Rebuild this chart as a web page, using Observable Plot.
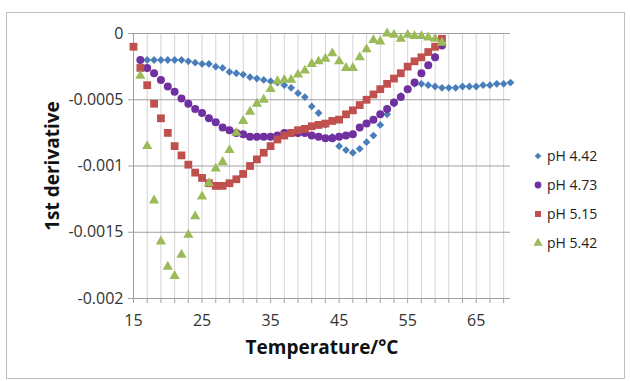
<!DOCTYPE html>
<html><head><meta charset="utf-8">
<script src="https://cdn.jsdelivr.net/npm/d3@7"></script>
<script src="https://cdn.jsdelivr.net/npm/@observablehq/plot@0.6"></script>
<style>
body{margin:0;background:#fff;font-family:"Open Sans",sans-serif;}
#wrap{position:relative;width:630px;height:381px;overflow:hidden;}
#frame{position:absolute;left:6px;top:12px;width:617px;height:365px;border:1px solid #bfbfbf;pointer-events:none;}
#legend{position:absolute;left:533px;top:141px;font-size:14px;color:#222;}
.item{display:flex;align-items:center;height:29px;}
.item svg{margin-right:4px;}
</style></head><body>
<div id="wrap"><div id="frame"></div><div id="chart"></div><div id="legend"></div></div>
<script>
// Series names and styles
const seriesNames = ["pH 4.42", "pH 4.73", "pH 5.15", "pH 5.42"];
const seriesColors = ["#4a7ebb", "#7030a0", "#c0504d", "#9bbb59"];
const seriesSymbols = ["diamond2", "circle", "square", "triangle"];

// First temperature (°C) of each series; readings every 1 °C
const startT = [16, 16, 15, 16];

const ph442 = [-0.00020,-0.00020,-0.00020,-0.00020,-0.00020,-0.00020,-0.00020,-0.00021,-0.00022,-0.00023,
  -0.00023,-0.00025,-0.00026,-0.00029,-0.00030,-0.00031,-0.00033,-0.00034,-0.00035,-0.00036,
  -0.00037,-0.00039,-0.00041,-0.00045,-0.00048,-0.00055,-0.00060,-0.00069,-0.00078,-0.00085,
  -0.00088,-0.00090,-0.00087,-0.00082,-0.00077,-0.00069,-0.00061,-0.00053,-0.00047,-0.00042,
  -0.00038,-0.00038,-0.00039,-0.00040,-0.00041,-0.00041,-0.00041,-0.00040,-0.00040,-0.00040,
  -0.00039,-0.00039,-0.00038,-0.00038,-0.00037];
const ph473 = [-0.00020,-0.00026,-0.00030,-0.00035,-0.00040,-0.00044,-0.00049,-0.00053,-0.00057,-0.00060,
  -0.00064,-0.00067,-0.00071,-0.00073,-0.00075,-0.00076,-0.00078,-0.00078,-0.00078,-0.00078,
  -0.00077,-0.00075,-0.00075,-0.00075,-0.00075,-0.00077,-0.00078,-0.00079,-0.00079,-0.00078,
  -0.00077,-0.00076,-0.00071,-0.00068,-0.00065,-0.00061,-0.00057,-0.00052,-0.00048,-0.00042,
  -0.00037,-0.00030,-0.00024,-0.00018,-0.00009];
const ph515 = [-0.00010,-0.00026,-0.00039,-0.00053,-0.00064,-0.00075,-0.00085,-0.00092,-0.00099,-0.00105,
  -0.00109,-0.00113,-0.00115,-0.00115,-0.00113,-0.00110,-0.00106,-0.00100,-0.00095,-0.00090,
  -0.00085,-0.00080,-0.00077,-0.00075,-0.00073,-0.00072,-0.00070,-0.00069,-0.00068,-0.00066,
  -0.00065,-0.00061,-0.00058,-0.00054,-0.00050,-0.00046,-0.00042,-0.00038,-0.00034,-0.00030,
  -0.00025,-0.00021,-0.00018,-0.00014,-0.00010,-0.00004];
const ph542 = [-0.00032,-0.00085,-0.00126,-0.00157,-0.00176,-0.00183,-0.00167,-0.00152,-0.00138,-0.00123,
  -0.00113,-0.00102,-0.00097,-0.00088,-0.00075,-0.00066,-0.00059,-0.00053,-0.00050,-0.00042,
  -0.00036,-0.00035,-0.00035,-0.00031,-0.00028,-0.00023,-0.00021,-0.00019,-0.00015,-0.00021,
  -0.00026,-0.00026,-0.00018,-0.00012,-0.00005,-0.00006,0.00000,-0.00001,-0.00004,-0.00001,
  -0.00002,-0.00002,-0.00003,-0.00004,-0.00007];

// Axis ticks
const xTicks = [15, 25, 35, 45, 55, 65];
const xMinor = [15,17,19,21,23,25,27,29,31,33,35,37,39,41,43,45,47,49,51,53,55,57,59,61,63,65,67,69];
const yTicks = [0, -0.0005, -0.001, -0.0015, -0.002];
const yTickLabels = ["0", "-0.0005", "-0.001", "-0.0015", "-0.002"];

const allValues = [ph442, ph473, ph515, ph542];
const series = allValues.map((vals, i) => vals.map((v, k) => ({t: startT[i] + k, v, s: seriesNames[i]})));

const chart = Plot.plot({
  width: 630, height: 381,
  marginLeft: 133, marginRight: 120, marginTop: 33, marginBottom: 83,
  style: {fontFamily: "'Open Sans', sans-serif", fontSize: "16px", color: "#333", background: "transparent"},
  x: {domain: [15, 70], label: null},
  y: {domain: [-0.002, 0], label: null},
  marks: [
    Plot.ruleX(xMinor, {stroke: "#d4d4d4"}),
    Plot.ruleY(yTicks, {stroke: "#a0a0a0"}),
    Plot.ruleX([15], {stroke: "#a0a0a0"}),
    Plot.axisX({ticks: xMinor, tickSize: 5, tickFormat: () => "", stroke: "#a0a0a0", label: null}),
    Plot.axisX({ticks: xTicks, tickSize: 0, tickPadding: 16, tickFormat: d => String(d), fill: "#333", label: null}),
    Plot.axisY({ticks: yTicks, tickSize: 5, tickPadding: 5, stroke: "#a0a0a0", fill: "#333",
      tickFormat: d => yTickLabels[yTicks.indexOf(d)], label: null}),
    ...series.map((data, i) => Plot.dot(data, {
      x: "t", y: "v", symbol: seriesSymbols[i],
      r: [3.5, 4, 4.4, 3.8][i],
      fill: seriesColors[i], stroke: "none"
    })),
    Plot.text(["1st derivative"], {frameAnchor: "left", dx: -81, rotate: -90, text: d => d,
      fontSize: 19, fontWeight: "bold", fill: "#111", textAnchor: "middle"}),
    Plot.text(["Temperature/°C"], {frameAnchor: "bottom", dy: 55, text: d => d,
      fontSize: 19, fontWeight: "bold", fill: "#111", textAnchor: "middle"})
  ]
});
document.getElementById("chart").appendChild(chart);

// Legend
const legend = d3.select("#legend");
const symMap = {diamond2: d3.symbolDiamond2, circle: d3.symbolCircle, square: d3.symbolSquare, triangle: d3.symbolTriangle};
const symSize = [28, 36, 36, 36];
seriesNames.forEach((name, i) => {
  const item = legend.append("div").attr("class", "item");
  const svg = item.append("svg").attr("width", 10).attr("height", 10);
  svg.append("path").attr("transform", "translate(5,5)")
    .attr("d", d3.symbol(symMap[seriesSymbols[i]], symSize[i])())
    .attr("fill", seriesColors[i]);
  item.append("span").text(name);
});
</script>
</body></html>
